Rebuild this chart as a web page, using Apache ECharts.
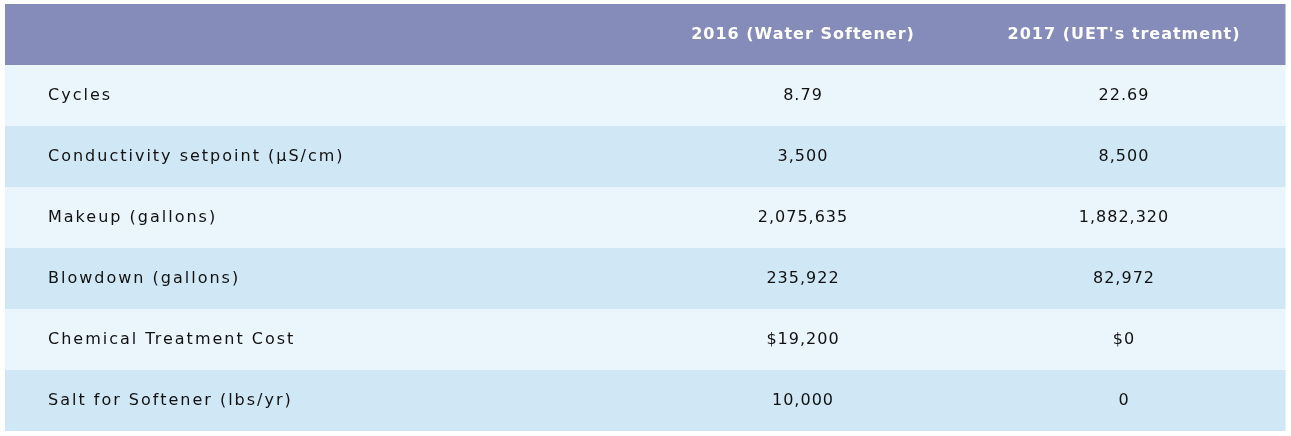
<!DOCTYPE html>
<html>
<head>
<meta charset="utf-8">
<script src="https://cdn.jsdelivr.net/npm/echarts@6/dist/echarts.min.js"></script>
<style>
  html, body { margin: 0; padding: 0; background: #fff; }
  #chart { width: 1291px; height: 436px; }
</style>
</head>
<body>
<div id="chart"></div>
<script>
// table content
const columnTitles = ['', '2016 (Water Softener)', "2017 (UET's treatment)"];
const metrics = [
  'Cycles',
  'Conductivity setpoint (µS/cm)',
  'Makeup (gallons)',
  'Blowdown (gallons)',
  'Chemical Treatment Cost',
  'Salt for Softener (lbs/yr)'
];
const prefixes = ['', '', '', '', '$', ''];
const values2016 = [8.79, 3500, 2075635, 235922, 19200, 10000];
const values2017 = [22.69, 8500, 1882320, 82972, 0, 0];

// column edges on the x axis (label column ~ half the table)
const colEdges = [0, 638, 958, 1280];
const rowNames = ['header'].concat(metrics);

const fmt = (v, i) => prefixes[i] + v.toLocaleString('en-US');

const cells = [];
rowNames.forEach((name, r) => {
  for (let c = 0; c < 3; c++) {
    let text;
    if (r === 0) text = columnTitles[c];
    else if (c === 0) text = metrics[r - 1];
    else if (c === 1) text = fmt(values2016[r - 1], r - 1);
    else text = fmt(values2017[r - 1], r - 1);
    cells.push([c, r, text]);
  }
});

// the original font is letter spaced; zrender has no option for it,
// so set it on the canvas context right before text is drawn
const labelSet = new Set(metrics);
const origFillText = CanvasRenderingContext2D.prototype.fillText;
CanvasRenderingContext2D.prototype.fillText = function () {
  this.letterSpacing = labelSet.has(arguments[0]) ? '2px' : '1px';
  return origFillText.apply(this, arguments);
};

const fillFor = r => (r === 0 ? '#858cba' : r % 2 === 1 ? '#eaf5fc' : '#d0e7f6');

const chart = echarts.init(document.getElementById('chart'));
chart.setOption({
  animation: false,
  grid: { left: 5, right: 6, top: 4, bottom: 5 },
  xAxis: { type: 'value', min: 0, max: 1280, show: false },
  yAxis: { type: 'category', data: rowNames, inverse: true, show: false },
  series: [{
    type: 'custom',
    data: cells,
    renderItem: (params, api) => {
      const c = api.value(0);
      const r = api.value(1);
      const text = cells[params.dataIndex][2];
      const left = api.coord([colEdges[c], r]);
      const right = api.coord([colEdges[c + 1], r]);
      const h = api.size([0, 1])[1];
      const x0 = left[0];
      const x1 = right[0];
      const cy = left[1];
      const isHeader = r === 0;
      return {
        type: 'group',
        children: [
          {
            type: 'rect',
            shape: { x: x0, y: cy - h / 2, width: x1 - x0 + 0.5, height: h },
            style: { fill: fillFor(r) }
          },
          {
            type: 'text',
            x: c === 0 ? x0 + 43 : (x0 + x1) / 2,
            y: cy,
            style: {
              text: text,
              fill: isHeader ? '#ffffff' : '#111111',
              font: (isHeader ? 'bold ' : '') + '16px "DejaVu Sans"',
              align: c === 0 ? 'left' : 'center',
              verticalAlign: 'middle'
            }
          }
        ]
      };
    }
  }]
});
</script>
</body>
</html>
